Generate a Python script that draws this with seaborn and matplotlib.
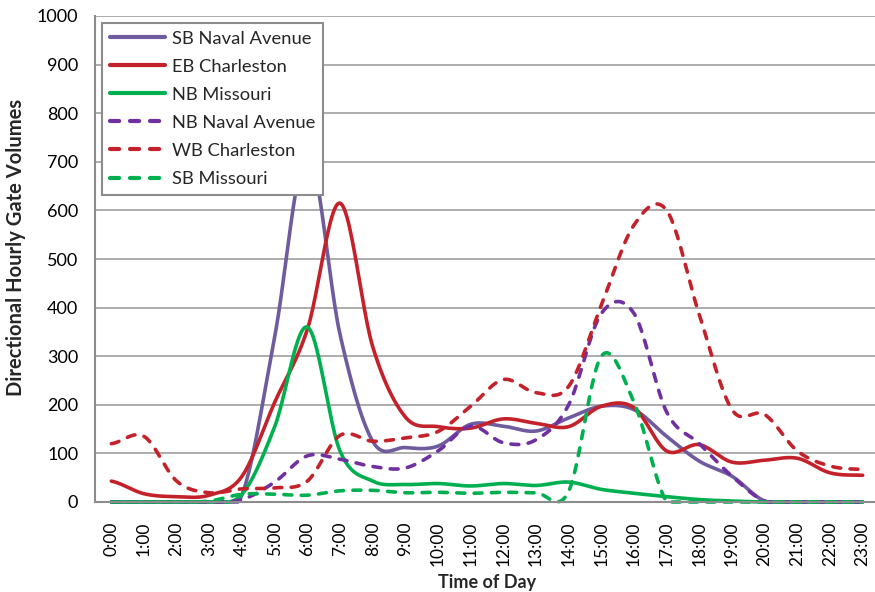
import numpy as np
import pandas as pd
import matplotlib
matplotlib.use("Agg")
import matplotlib.pyplot as plt
import seaborn as sns

# Hourly directional gate volumes
hour_labels = ["0:00", "1:00", "2:00", "3:00", "4:00", "5:00", "6:00", "7:00",
               "8:00", "9:00", "10:00", "11:00", "12:00", "13:00", "14:00", "15:00",
               "16:00", "17:00", "18:00", "19:00", "20:00", "21:00", "22:00", "23:00"]

sb_naval_avenue = [0, 0, 0, 0, 15, 340, 720, 345, 125, 112, 115, 160,
                   156, 146, 173, 197, 190, 135, 84, 53, 2, 0, 0, 0]
eb_charleston = [43, 17, 11, 14, 53, 205, 355, 615, 320, 175, 155, 152,
                 171, 162, 155, 197, 194, 105, 118, 82, 86, 90, 60, 55]
nb_missouri = [0, 0, 0, 0, 16, 155, 360, 105, 43, 36, 38, 33,
               38, 34, 41, 26, 18, 11, 5, 2, 0, 0, 0, 0]
nb_naval_avenue = [0, 0, 0, 0, 5, 41, 95, 88, 73, 70, 105, 156,
                   122, 128, 200, 388, 388, 185, 120, 53, 2, 0, 0, 0]
wb_charleston = [120, 135, 43, 19, 27, 29, 43, 137, 125, 132, 145, 197,
                 252, 225, 238, 405, 570, 600, 385, 190, 180, 105, 74, 67]
sb_missouri = [0, 0, 0, 2, 16, 16, 14, 23, 24, 19, 20, 18,
               20, 19, 22, 300, 205, 0, 0, 0, 0, 0, 0, 0]

series_names = ["SB Naval Avenue", "EB Charleston", "NB Missouri",
                "NB Naval Avenue", "WB Charleston", "SB Missouri"]
series_values = [sb_naval_avenue, eb_charleston, nb_missouri,
                 nb_naval_avenue, wb_charleston, sb_missouri]

palette = {
    "SB Naval Avenue": "#6F5C9E",
    "EB Charleston": "#C3222B",
    "NB Missouri": "#00B050",
    "NB Naval Avenue": "#7030A0",
    "WB Charleston": "#C3222B",
    "SB Missouri": "#00B050",
}
dash_styles = {
    "SB Naval Avenue": "",
    "EB Charleston": "",
    "NB Missouri": "",
    "NB Naval Avenue": (2.2, 2.6),
    "WB Charleston": (2.2, 2.6),
    "SB Missouri": (2.2, 2.6),
}


def smooth_curve(values, steps=24):
    """Catmull-Rom spline through hourly values (smoothed line rendering)."""
    y = np.asarray(values, dtype=float)
    p = np.concatenate([[y[0]], y, [y[-1]]])
    xs, ys = [], []
    t = np.linspace(0.0, 1.0, steps, endpoint=False)
    h00 = 2 * t**3 - 3 * t**2 + 1
    h10 = t**3 - 2 * t**2 + t
    h01 = -2 * t**3 + 3 * t**2
    h11 = t**3 - t**2
    for i in range(len(y) - 1):
        p0, p1, p2, p3 = p[i], p[i + 1], p[i + 2], p[i + 3]
        m1 = (p2 - p0) / 2.0
        m2 = (p3 - p1) / 2.0
        xs.append(i + t)
        ys.append(h00 * p1 + h10 * m1 + h01 * p2 + h11 * m2)
    xs.append([len(y) - 1])
    ys.append([y[-1]])
    # keep the smoothed line from swinging below the zero baseline
    return np.concatenate(xs), np.maximum(np.concatenate(ys), 0.0)


frames = []
for name, vals in zip(series_names, series_values):
    hx, hy = smooth_curve(vals)
    frames.append(pd.DataFrame({"hour": hx, "volume": hy, "series": name}))
df = pd.concat(frames, ignore_index=True)

sns.set_theme(style="white")
plt.rcParams["font.family"] = ["Lato", "DejaVu Sans"]
plt.rcParams["lines.dash_capstyle"] = "round"
plt.rcParams["lines.solid_capstyle"] = "round"

fig = plt.figure(figsize=(8.75, 5.92), dpi=100)
ax = fig.add_axes([95 / 875, 90 / 592, 784 / 875, 486 / 592])

sns.lineplot(data=df, x="hour", y="volume", hue="series", style="series",
             hue_order=series_names, style_order=series_names,
             palette=palette, dashes=dash_styles, linewidth=2.6,
             sort=False, estimator=None, ax=ax)
for line in ax.get_lines():
    line.set_clip_on(False)

grid_color = "#A6A6A6"
spine_color = "#8C8C8C"

ax.set_xlim(-0.5, 23.5)
ax.set_ylim(0, 1000)
ax.set_yticks(np.arange(0, 1001, 100))
ax.set_yticklabels([str(v) for v in range(0, 1001, 100)])
ax.yaxis.grid(True, color=grid_color, linewidth=1.3)
ax.xaxis.grid(False)
ax.set_axisbelow(True)

ax.set_xticks(np.arange(24))
ax.set_xticklabels(hour_labels, rotation=90)
ax.set_xticks(np.arange(-0.5, 24, 1), minor=True)
ax.tick_params(axis="x", which="major", length=0, pad=14, labelsize=12.5,
               colors="black")
ax.tick_params(axis="x", which="minor", length=5, width=1.3, color=spine_color,
               direction="out")
ax.tick_params(axis="y", which="major", length=6, width=1.3, color=spine_color,
               direction="out", labelsize=13, pad=6, labelcolor="black")

for side in ["top", "right"]:
    ax.spines[side].set_visible(False)
for side in ["left", "bottom"]:
    ax.spines[side].set_color(spine_color)
    ax.spines[side].set_linewidth(1.5)

ax.set_xlabel("Time of Day", fontsize=13, fontweight="bold")
ax.xaxis.set_label_coords(0.5, -0.148)
ax.set_ylabel("Directional Hourly Gate Volumes", fontsize=14.5,
              fontweight="bold")
ax.yaxis.set_label_coords(-0.088, 0.523)

leg = ax.legend(loc="upper left", bbox_to_anchor=(0.009, 0.986),
                borderaxespad=0, frameon=True, fancybox=False,
                fontsize=13.2, handlelength=3.0, handletextpad=0.4,
                labelspacing=0.66, borderpad=0.42)
leg.get_frame().set_edgecolor("#8C8C8C")
leg.get_frame().set_linewidth(1.5)
leg.get_frame().set_facecolor("white")
leg.get_frame().set_alpha(1.0)
for h in leg.get_lines():
    h.set_linewidth(3.0)

fig.savefig("out.png", dpi=100)
